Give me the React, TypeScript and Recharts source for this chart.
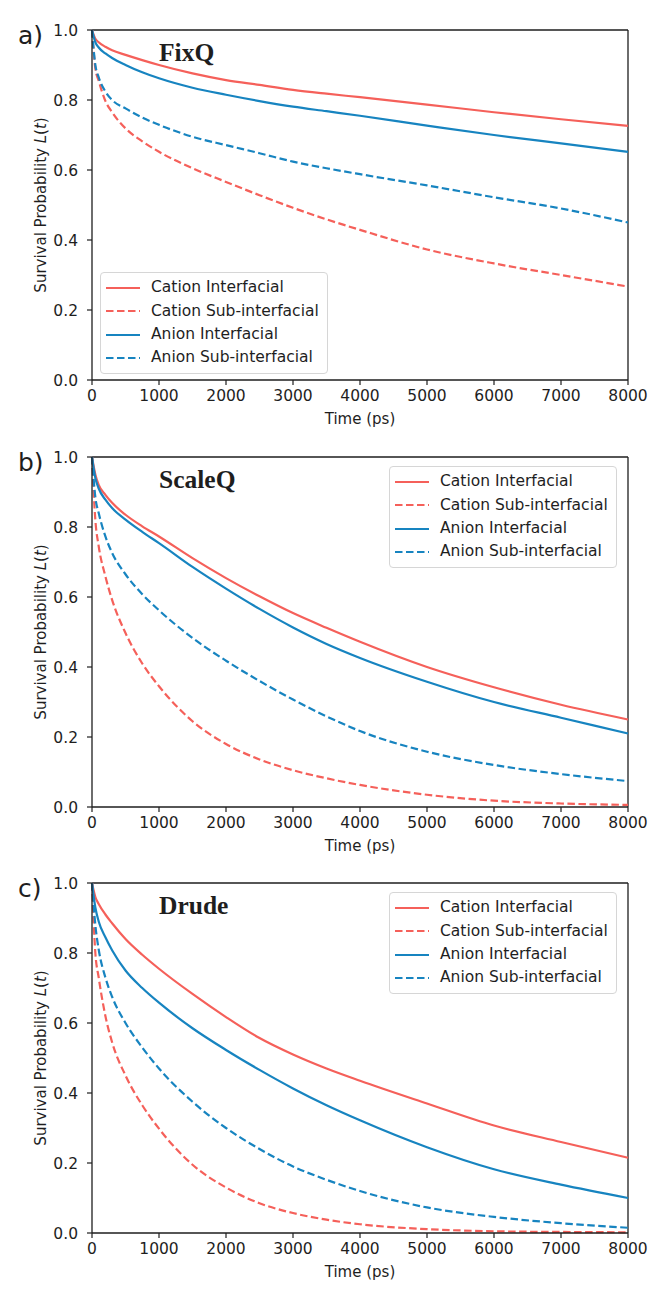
import React from 'react';
import { LineChart, Line, XAxis, YAxis, Legend, ReferenceLine } from 'recharts';

const TIMES = [0, 50, 100, 200, 300, 500, 750, 1000, 1500, 2000, 2500, 3000, 3500, 4000, 5000, 6000, 7000, 8000];
const X_TICKS = [0, 1000, 2000, 3000, 4000, 5000, 6000, 7000, 8000];
const Y_TICKS = [0, 0.2, 0.4, 0.6, 0.8, 1.0];
const SERIES_NAMES = ['Cation Interfacial', 'Cation Sub-interfacial', 'Anion Interfacial', 'Anion Sub-interfacial'];
const PANEL_TITLES = ['FixQ', 'ScaleQ', 'Drude'];
const PANEL_LABELS = ['a)', 'b)', 'c)'];

// FixQ
const FIXQ_CAT_INT = [1.0, 0.975, 0.965, 0.952, 0.942, 0.929, 0.914, 0.9, 0.876, 0.857, 0.843, 0.829, 0.818, 0.808, 0.787, 0.765, 0.745, 0.726];
const FIXQ_CAT_SUB = [1.0, 0.89, 0.855, 0.797, 0.765, 0.719, 0.682, 0.652, 0.605, 0.566, 0.528, 0.492, 0.459, 0.429, 0.373, 0.333, 0.3, 0.267];
const FIXQ_AN_INT = [1.0, 0.965, 0.95, 0.933, 0.92, 0.9, 0.879, 0.862, 0.835, 0.815, 0.797, 0.781, 0.768, 0.755, 0.727, 0.7, 0.676, 0.652];
const FIXQ_AN_SUB = [1.0, 0.9, 0.865, 0.824, 0.8, 0.776, 0.75, 0.729, 0.695, 0.671, 0.648, 0.624, 0.605, 0.588, 0.556, 0.522, 0.49, 0.45];

// ScaleQ
const SCALEQ_CAT_INT = [1.0, 0.95, 0.92, 0.892, 0.869, 0.835, 0.802, 0.773, 0.711, 0.654, 0.602, 0.554, 0.512, 0.472, 0.4, 0.342, 0.292, 0.25];
const SCALEQ_CAT_SUB = [1.0, 0.82, 0.745, 0.659, 0.592, 0.497, 0.41, 0.345, 0.245, 0.18, 0.136, 0.105, 0.082, 0.063, 0.035, 0.018, 0.01, 0.006];
const SCALEQ_AN_INT = [1.0, 0.94, 0.91, 0.878, 0.854, 0.821, 0.786, 0.754, 0.686, 0.624, 0.566, 0.513, 0.466, 0.426, 0.358, 0.3, 0.255, 0.21];
const SCALEQ_AN_SUB = [1.0, 0.885, 0.84, 0.773, 0.726, 0.665, 0.608, 0.562, 0.483, 0.418, 0.36, 0.307, 0.259, 0.217, 0.158, 0.12, 0.094, 0.074];

// Drude
const DRUDE_CAT_INT = [1.0, 0.96, 0.94, 0.91, 0.885, 0.84, 0.795, 0.755, 0.683, 0.617, 0.557, 0.51, 0.47, 0.435, 0.37, 0.307, 0.26, 0.215];
const DRUDE_CAT_SUB = [1.0, 0.8, 0.73, 0.62, 0.545, 0.45, 0.365, 0.298, 0.195, 0.13, 0.085, 0.057, 0.038, 0.025, 0.011, 0.005, 0.003, 0.002];
const DRUDE_AN_INT = [1.0, 0.93, 0.89, 0.845, 0.808, 0.75, 0.7, 0.658, 0.585, 0.523, 0.466, 0.413, 0.365, 0.322, 0.245, 0.182, 0.138, 0.1];
const DRUDE_AN_SUB = [1.0, 0.88, 0.81, 0.73, 0.675, 0.6, 0.53, 0.47, 0.375, 0.3, 0.24, 0.19, 0.152, 0.12, 0.073, 0.046, 0.028, 0.015];

const RED = '#F5605A';
const BLUE = '#1784C0';
const INK = '#1e1e1e';
const SANS = '"DejaVu Sans", sans-serif';

const SERIES_STYLE = [
  { key: 'ci', color: RED, dash: undefined },
  { key: 'cs', color: RED, dash: '7.5 3.5' },
  { key: 'ai', color: BLUE, dash: undefined },
  { key: 'as', color: BLUE, dash: '7.5 3.5' },
];

const buildData = (ci: number[], cs: number[], ai: number[], as: number[]) =>
  TIMES.map((t, i) => ({ t, ci: ci[i], cs: cs[i], ai: ai[i], as: as[i] }));

const PANELS = [
  { data: buildData(FIXQ_CAT_INT, FIXQ_CAT_SUB, FIXQ_AN_INT, FIXQ_AN_SUB), top: 0, legend: { left: 100, top: 272 } },
  { data: buildData(SCALEQ_CAT_INT, SCALEQ_CAT_SUB, SCALEQ_AN_INT, SCALEQ_AN_SUB), top: 427, legend: { left: 389, top: 39 } },
  { data: buildData(DRUDE_CAT_INT, DRUDE_CAT_SUB, DRUDE_AN_INT, DRUDE_AN_SUB), top: 853, legend: { left: 389, top: 39 } },
];

const CHART_W = 666;
const CHART_H = 430;
const MARGIN = { top: 30, right: 38, bottom: 20, left: 40 };

const renderLegend = () => (
  <div
    style={{
      border: '1px solid #d6d6d6',
      borderRadius: 4,
      background: 'rgba(255,255,255,0.85)',
      padding: '3.5px 8px 3.5px 5px',
      fontFamily: SANS,
      fontSize: 15.5,
      color: INK,
      lineHeight: 1,
    }}
  >
    {SERIES_NAMES.map((name, i) => (
      <div key={name} style={{ display: 'flex', alignItems: 'center', height: 23.3 }}>
        <svg width={34} height={4} style={{ display: 'block' }}>
          <line x1={0} y1={2} x2={34} y2={2} stroke={SERIES_STYLE[i].color} strokeWidth={2.2} strokeDasharray={SERIES_STYLE[i].dash} />
        </svg>
        <span style={{ marginLeft: 11, whiteSpace: 'nowrap' }}>{name}</span>
      </div>
    ))}
  </div>
);

const renderYLabel = (props: any) => {
  const vb = props.viewBox || {};
  const cx = vb.x + 0.5;
  const cy = vb.y + vb.height / 2;
  return (
    <text
      x={cx}
      y={cy}
      transform={`rotate(-90 ${cx} ${cy})`}
      textAnchor="middle"
      dominantBaseline="central"
      fontFamily={SANS}
      fontSize={15}
      fill={INK}
    >
      Survival Probability <tspan fontStyle="italic">L</tspan>(<tspan fontStyle="italic">t</tspan>)
    </text>
  );
};

function Panel({ idx }: { idx: number }) {
  const p = PANELS[idx];
  const tickStyle = { fontFamily: SANS, fontSize: 15.5, fill: INK };
  return (
    <div style={{ position: 'absolute', left: 0, top: p.top, width: CHART_W, height: CHART_H }}>
      <LineChart width={CHART_W} height={CHART_H} data={p.data} margin={MARGIN}>
        <XAxis
          dataKey="t"
          type="number"
          domain={[0, 8000]}
          ticks={X_TICKS}
          interval={0}
          height={30}
          tickSize={5}
          tickMargin={5}
          tick={tickStyle}
          stroke={INK}
          axisLine={{ stroke: INK, strokeWidth: 1.3 }}
          tickLine={{ stroke: INK, strokeWidth: 1.2 }}
          label={{ value: 'Time (ps)', position: 'bottom', offset: 3, style: { fontFamily: SANS, fontSize: 15, fill: INK } }}
        />
        <YAxis
          type="number"
          domain={[0, 1]}
          ticks={Y_TICKS}
          interval={0}
          width={52}
          tickSize={5}
          tickMargin={9}
          tick={tickStyle}
          tickFormatter={(v: number) => v.toFixed(1)}
          axisLine={{ stroke: INK, strokeWidth: 1.3 }}
          tickLine={{ stroke: INK, strokeWidth: 1.2 }}
          label={renderYLabel}
        />
        <ReferenceLine y={1} stroke={INK} strokeWidth={1.3} />
        <ReferenceLine x={8000} stroke={INK} strokeWidth={1.3} />
        {SERIES_STYLE.map((s, i) => (
          <Line
            key={s.key}
            dataKey={s.key}
            name={SERIES_NAMES[i]}
            type="monotone"
            stroke={s.color}
            strokeWidth={2.2}
            strokeDasharray={s.dash}
            dot={false}
            activeDot={false}
            isAnimationActive={false}
          />
        ))}
        <Legend
          layout="vertical"
          align="center"
          verticalAlign="middle"
          content={renderLegend}
          wrapperStyle={{ position: 'absolute', left: p.legend.left, top: p.legend.top, width: 'auto', height: 'auto' }}
        />
      </LineChart>
    </div>
  );
}

export default function App() {
  return (
    <div style={{ position: 'absolute', left: 0, top: 0, width: 666, height: 1293, background: '#fff' }}>
      {PANELS.map((_, i) => (
        <Panel key={i} idx={i} />
      ))}
      <svg width={666} height={1293} style={{ position: 'absolute', left: 0, top: 0, pointerEvents: 'none' }}>
        {PANELS.map((p, i) => {
          const plotTop = p.top + MARGIN.top;
          return (
            <g key={i}>
              <text x={18} y={plotTop + 14} fontFamily={SANS} fontSize={25} fill={INK}>
                {PANEL_LABELS[i]}
              </text>
              <text x={159} y={plotTop + 30.5} fontFamily='"Liberation Serif", serif' fontWeight="bold" fontSize={25.5} fill={INK}>
                {PANEL_TITLES[i]}
              </text>
            </g>
          );
        })}
      </svg>
    </div>
  );
}
